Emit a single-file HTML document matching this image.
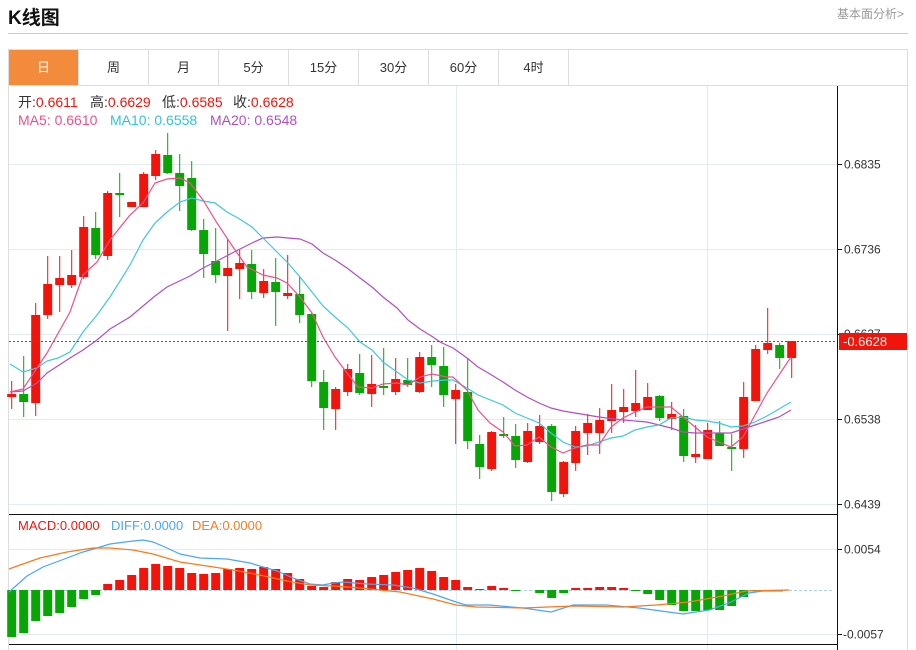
<!DOCTYPE html>
<html><head><meta charset="utf-8"><style>
body{margin:0;width:916px;height:650px;overflow:hidden;background:#fff;font-family:"Liberation Sans","Noto Sans CJK SC",sans-serif;}
#t{position:absolute;left:8px;top:3px;font-size:19px;font-weight:bold;color:#111;}
#r{position:absolute;right:12px;top:5px;font-size:12px;color:#999;}
#hr{position:absolute;left:8px;top:33px;width:900px;height:1px;background:#ccc;}
#tabs{position:absolute;left:8px;top:49px;width:898px;height:35px;border:1px solid #ddd;}
.tab{position:absolute;top:0;height:35px;width:69px;border-right:1px solid #ddd;text-align:center;line-height:35px;font-size:13px;color:#333;}
svg{position:absolute;left:0;top:0;}
</style></head><body>
<div id="t">K线图</div><div id="r">基本面分析&gt;</div><div id="hr"></div>
<div id="tabs">
<div class="tab" style="left:0;background:#f28c3c;color:#fff;">日</div>
<div class="tab" style="left:70px">周</div><div class="tab" style="left:140px">月</div>
<div class="tab" style="left:210px">5分</div><div class="tab" style="left:280px">15分</div>
<div class="tab" style="left:350px">30分</div><div class="tab" style="left:420px">60分</div>
<div class="tab" style="left:490px">4时</div>
</div>
<svg width="916" height="650" id="s" font-family="Liberation Sans, Noto Sans CJK SC, sans-serif">
<line x1="8.5" y1="86" x2="8.5" y2="650" stroke="#ddd"/>
<line x1="907.5" y1="86" x2="907.5" y2="650" stroke="#ddd"/>
<g stroke="#e3ebf0">
<line x1="9" y1="164.5" x2="837" y2="164.5"/><line x1="9" y1="249.5" x2="837" y2="249.5"/>
<line x1="9" y1="334.5" x2="837" y2="334.5"/><line x1="9" y1="419.5" x2="837" y2="419.5"/>
<line x1="9" y1="504.5" x2="837" y2="504.5"/>
<line x1="9" y1="549.5" x2="837" y2="549.5"/><line x1="9" y1="634.5" x2="837" y2="634.5"/>
<line x1="456.5" y1="86" x2="456.5" y2="650"/><line x1="707.5" y1="86" x2="707.5" y2="650"/>
</g>
<line x1="9" y1="514.5" x2="837" y2="514.5" stroke="#111"/>
<line x1="9" y1="644.5" x2="837" y2="644.5" stroke="#111"/>
<line x1="837.5" y1="86" x2="837.5" y2="650" stroke="#111"/>
<line x1="9" y1="590.5" x2="833" y2="590.5" stroke="#a8d4e8" stroke-dasharray="3,2"/>
<g id="c"></g>
<line x1="9" y1="341.5" x2="837" y2="341.5" stroke="#e02020" stroke-dasharray="2,2"/>
<g stroke="#111"><line x1="837" y1="164.5" x2="842" y2="164.5"/><line x1="837" y1="249.5" x2="842" y2="249.5"/><line x1="837" y1="334.5" x2="842" y2="334.5"/><line x1="837" y1="419.5" x2="842" y2="419.5"/><line x1="837" y1="504.5" x2="842" y2="504.5"/><line x1="837" y1="549.5" x2="842" y2="549.5"/><line x1="837" y1="634.5" x2="842" y2="634.5"/></g>
<g font-size="12" fill="#333">
<text x="844" y="168.5">0.6835</text><text x="844" y="253.5">0.6736</text><text x="844" y="338">0.6637</text>
<text x="844" y="423.5">0.6538</text><text x="844" y="508.5">0.6439</text>
<text x="844" y="553.5">0.0054</text><text x="843" y="638.5">-0.0057</text>
</g>
<rect x="839" y="333" width="68" height="17" fill="#f0140a"/>
<text x="843" y="346" font-size="13" fill="#fff">-0.6628</text>
<g font-size="14">
<text x="18" y="107" fill="#333">开:<tspan fill="#f0140a">0.6611</tspan></text>
<text x="90" y="107" fill="#333">高:<tspan fill="#f0140a">0.6629</tspan></text>
<text x="162" y="107" fill="#333">低:<tspan fill="#f0140a">0.6585</tspan></text>
<text x="233" y="107" fill="#333">收:<tspan fill="#f0140a">0.6628</tspan></text>
<text x="18" y="125" fill="#f0508a">MA5: 0.6610</text>
<text x="110" y="125" fill="#30c4d8">MA10: 0.6558</text>
<text x="210" y="125" fill="#b050c0">MA20: 0.6548</text>
</g>
<g font-size="13">
<text x="18" y="530" fill="#f0140a">MACD:0.0000</text>
<text x="111" y="530" fill="#4aa8f0">DIFF:0.0000</text>
<text x="192" y="530" fill="#f57c20">DEA:0.0000</text>
</g>
</svg>
<script>
var C=[['r',394,397,381,409],['g',394,402,356,417],['r',315,403,303,416],['r',284,315,256,319],['r',278,285,256,312],['r',275,285,250,288],['r',227,277,216,279],['g',228,255,212,259],['r',193,256,191,260],['g',193,195,173,217],['r',202,207,202,207],['r',174,207,172,207],['r',154,176,150,180],['g',155,173,133,174],['g',173,186,154,211],['g',178,230,161,231],['g',230,254,219,278],['g',261,275,228,283],['r',268,276,239,331],['r',263,269,250,299],['g',264,292,250,299],['r',281,293,269,298],['g',282,292,258,326],['r',293,296,255,299],['g',294,315,277,323],['g',314,381,313,387],['g',382,408,370,430],['r',389,409,387,430],['r',369,392,364,396],['g',373,393,354,395],['r',384,394,355,407],['g',386,388,348,395],['r',379,392,358,395],['g',380,385,358,387],['r',357,392,352,393],['g',357,365,345,387],['g',366,395,347,407],['r',390,399,384,444],['g',392,441,358,449],['g',444,467,435,479],['r',432,469,431,471],['g',434,436,417,438],['g',436,460,424,468],['r',431,462,423,463],['r',426,442,415,444],['g',426,492,424,501],['r',462,494,461,497],['r',431,463,426,471],['r',423,433,414,455],['r',420,433,408,454],['r',410,421,384,433],['r',407,412,389,423],['r',403,411,370,417],['r',397,410,383,410],['g',396,418,395,421],['r',414,419,402,430],['g',416,456,409,462],['r',454,457,425,463],['r',430,459,423,459],['g',433,446,421,446],['g',447,449,434,471],['r',397,449,382,458],['r',349,401,345,401],['r',343,350,308,354],['g',345,358,343,369],['r',341,358,341,378]];
var M=[637,633,621,616,613,607,599,595,584,580,575,568,564,566,568,573,574,573,569,568,569,567,569,573,579,586,587,582,579,580,577,575,572,570,568,571,577,580,587,589,586,588,591,590,593,598,593,588,588,587,587,588,591,594,600,605,611,611,610,610,606,597,591,590,590,590];
var ma5="10,392 23,389 47,353 70,312 83,275 97,262 110,240 130,215 143,203 155,183 167,179 180,178 190,183 203,200 217,223 233,247 247,267 263,275 277,278 287,283 300,297 312,313 323,337 335,357 347,373 358,387 372,388 383,384 397,383 408,385 420,377 432,374 447,377 453,377 467,390 478,410 490,423 503,432 515,446 527,445 539,437 551,447 563,453 575,448 587,445 599,445 611,427 623,418 635,412 647,407 659,407 671,407 683,417 695,427 707,437 719,442 731,447 743,437 755,415 767,393 779,375 791,357";
var ma10="10,364 23,372 37,368 47,361 58,358 70,352 83,332 97,315 110,297 130,265 143,240 155,223 167,212 180,202 192,198 203,201 215,203 227,212 238,218 252,227 263,238 277,252 288,263 300,277 312,292 323,306 335,317 348,328 360,342 372,350 383,362 397,372 408,380 420,383 433,381 447,380 453,380 467,388 478,395 503,405 515,413 527,418 539,423 551,433 563,442 575,447 587,446 611,438 623,436 635,430 647,427 659,425 671,418 683,417 695,420 707,421 719,423 731,427 743,426 755,422 767,416 779,409 791,402";
var ma20="10,392 23,391 37,383 47,373 70,358 83,350 97,340 110,329 130,317 143,306 155,296 167,287 190,276 203,268 215,262 238,250 252,243 263,238 277,237 288,238 300,239 312,244 323,253 335,260 347,268 360,278 372,287 383,297 397,308 408,320 420,329 433,337 440,342 453,348 467,358 478,367 490,374 503,382 515,390 527,397 539,403 551,408 563,411 587,415 599,417 623,420 647,422 659,425 671,428 683,432 695,433 707,433 719,433 731,433 743,429 755,425 767,421 779,417 791,410";
var diff="9,592 27,576 43,567 67,558 83,552 97,548 110,544 133,541 143,540 153,542 167,548 180,554 200,558 227,559 250,563 263,567 277,571 293,578 310,584 323,585 333,583 343,582 367,584 393,585 413,588 433,594 456,602 466,605 489,605 523,608 551,612 573,605 606,605 639,608 683,614 709,610 729,603 749,593 763,591 783,591";
var dea="9,569 20,565 40,558 67,552 93,548 110,548 133,550 153,554 180,562 207,566 233,570 260,575 287,581 310,585 333,586 360,588 400,592 433,599 456,605 476,607 523,608 573,606 623,607 656,605 689,602 723,596 746,591 789,590";
var h='';
for(var i=0;i<C.length;i++){var c=C[i],x=11.7+12*i,col=c[0]=='r'?'#f0140a':'#07a606';
h+='<line x1="'+x+'" y1="'+c[3]+'" x2="'+x+'" y2="'+c[4]+'" stroke="'+col+'" stroke-width="1"/>';
h+='<rect x="'+(x-4.5)+'" y="'+c[1]+'" width="9" height="'+Math.max(2,c[2]-c[1])+'" fill="'+col+'"/>';
var m=M[i];if(Math.abs(m-590)>=1){var t=Math.min(m,590),b=Math.max(m,590);h+='<rect x="'+(x-4.5)+'" y="'+t+'" width="9" height="'+(b-t)+'" fill="'+(m<590?'#f0140a':'#07a606')+'"/>';}}
function pl(p,c){return '<polyline points="'+p+'" fill="none" stroke="'+c+'" stroke-width="1.2"/>';}
h+=pl(ma20,'#b050c0')+pl(ma10,'#40c8dc')+pl(ma5,'#f0508a')+pl(diff,'#4aa8f0')+pl(dea,'#f57c20');
document.getElementById('c').innerHTML=h;
</script>
</body></html>
